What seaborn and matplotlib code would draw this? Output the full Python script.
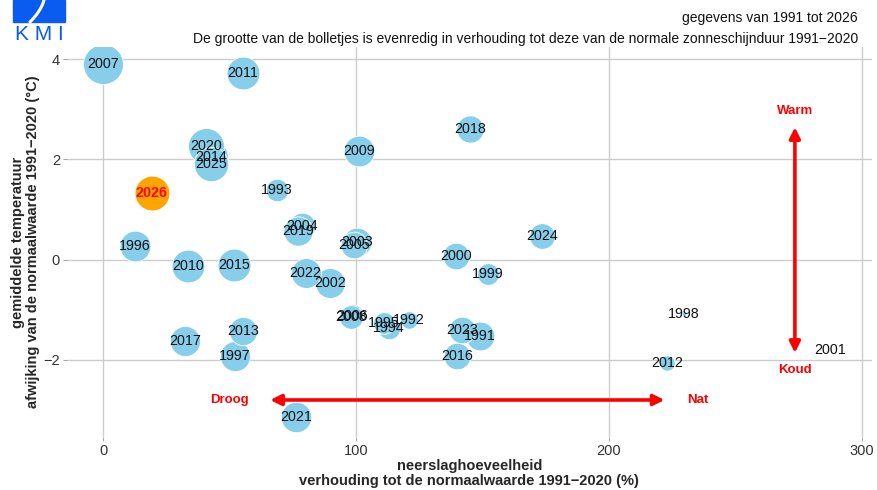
import matplotlib
matplotlib.use("Agg")
import matplotlib.pyplot as plt
import seaborn as sns
import pandas as pd
import numpy as np
from matplotlib.patches import Rectangle

# ---- data ----
jaren = [1991, 1992, 1993, 1994, 1995, 1996, 1997, 1998, 1999, 2000,
         2001, 2002, 2003, 2004, 2005, 2006, 2007, 2008, 2009, 2010,
         2011, 2012, 2013, 2014, 2015, 2016, 2017, 2018, 2019, 2020,
         2021, 2022, 2023, 2024, 2025, 2026]
neerslag = [149, 121, 68.7, 113, 111, 12.5, 52, 229.7, 152, 139.5,
            287.5, 89.6, 100.5, 78.6, 99, 98.5, 0, 98, 101, 33.4,
            55.2, 223, 55.2, 42.5, 51.6, 140, 32.2, 145, 77, 40.6,
            76.2, 80, 142, 173.5, 42.5, 19.2]
temperatuur = [-1.52, -1.2, 1.38, -1.36, -1.26, 0.28, -1.92, -1.08, -0.28, 0.08,
               -1.8, -0.46, 0.35, 0.68, 0.3, -1.12, 3.9, -1.14, 2.16, -0.12,
               3.72, -2.06, -1.42, 2.04, -0.1, -1.92, -1.62, 2.6, 0.58, 2.26,
               -3.14, -0.26, -1.4, 0.48, 1.9, 1.32]
zon = [99, 68, 80, 80, 78, 106, 104, 51, 78, 92,
       50, 103, 99, 92, 92, 83, 145, 83, 106, 114,
       114, 64, 97, 118, 114, 92, 104, 94, 101, 127,
       105, 103, 92, 89, 120, 122]

df = pd.DataFrame({"jaar": jaren, "neerslag": neerslag,
                   "temperatuur": temperatuur, "zon": zon})
df["groep"] = np.where(df["jaar"] == 2026, "huidig", "vorig")

sns.set_theme(style="white")
plt.rcParams["font.family"] = ["Liberation Sans", "DejaVu Sans"]

fig = plt.figure(figsize=(8.77, 4.90), dpi=100)
ax = fig.add_axes([0.0764, 0.108, 0.9176, 0.796])

smax = (2 * 20 * 0.72) ** 2
for yr in df["jaar"]:
    sub = df[df["jaar"] == yr]
    sns.scatterplot(data=sub, x="neerslag", y="temperatuur", size="zon",
                    sizes=(0, smax), size_norm=(50, 145), hue="groep",
                    palette={"huidig": "#FFA500", "vorig": "#87CEEB"},
                    edgecolor="white", linewidth=0.6, legend=False, ax=ax,
                    zorder=3)

for _, r in df.iterrows():
    if r["jaar"] == 2026:
        ax.text(r["neerslag"], r["temperatuur"], str(int(r["jaar"])),
                ha="center", va="center", fontsize=10.3, color="red",
                fontweight="bold", zorder=5)
    else:
        ax.text(r["neerslag"], r["temperatuur"], str(int(r["jaar"])),
                ha="center", va="center", fontsize=10.3, color="#111111",
                zorder=5)

# arrows
arrow_kw = dict(arrowstyle="<|-|>", color="red", lw=2.6,
                mutation_scale=16, shrinkA=0, shrinkB=0)
ax.annotate("", xy=(66, -2.8), xytext=(222, -2.8), arrowprops=arrow_kw, zorder=4)
ax.annotate("", xy=(273.6, 2.64), xytext=(273.6, -1.86), arrowprops=arrow_kw, zorder=4)
lab_kw = dict(color="red", fontweight="bold", fontsize=9.5, ha="center",
              va="center", zorder=5)
ax.text(50, -2.8, "Droog", **lab_kw)
ax.text(235, -2.8, "Nat", **lab_kw)
ax.text(273.6, 2.96, "Warm", **lab_kw)
ax.text(273.6, -2.2, "Koud", **lab_kw)

ax.set_xlim(-14.4, 304)
ax.set_ylim(-3.54, 4.24)
ax.set_xticks([0, 100, 200, 300])
ax.set_yticks([-2, 0, 2, 4])
ax.set_yticklabels(["\u22122", "0", "2", "4"])
ax.grid(True, color="#cccccc", linewidth=1.0)
ax.set_axisbelow(True)
for s in ax.spines.values():
    s.set_visible(False)
ax.tick_params(axis="both", which="major", length=3, width=0.8,
               color="#aaaaaa", labelsize=10.5, labelcolor="#333333", pad=2,
               bottom=True, left=True)

ax.set_xlabel("neerslaghoeveelheid\nverhouding tot de normaalwaarde 1991\u22122020 (%)",
              fontsize=10.5, fontweight="bold", labelpad=1, linespacing=1.05)
ax.set_ylabel("gemiddelde temperatuur\nafwijking van de normaalwaarde 1991\u22122020 (\u00b0C)",
              fontsize=10.5, fontweight="bold", labelpad=2.5, linespacing=1.05)

fig.text(858 / 877, 1 - 18 / 490, "gegevens van 1991 tot 2026",
         ha="right", va="center", fontsize=10, color="#111111")
fig.text(858 / 877, 1 - 39 / 490,
         "De grootte van de bolletjes is evenredig in verhouding tot deze van de normale zonneschijnduur 1991\u22122020",
         ha="right", va="center", fontsize=10, color="#111111")

# logo
logo_blue = "#0a5cf0"
fig.patches.append(Rectangle((13 / 877, 1 - 22 / 490), 52 / 877, 22 / 490,
                             transform=fig.transFigure, color=logo_blue, zorder=1))
t = np.linspace(0, 1, 30)
xs = (44 - 6 * t - 8 * t ** 2) / 877
ys = 1 - (0 + 22 * t) / 490
fig.add_artist(plt.Line2D(xs, ys, transform=fig.transFigure, color="white", lw=2.2))
fig.text(39 / 877, 1 - 40 / 490, "K M I", ha="center", va="baseline",
         fontsize=15, color=logo_blue)

fig.savefig("out.png", dpi=100, facecolor="white")
